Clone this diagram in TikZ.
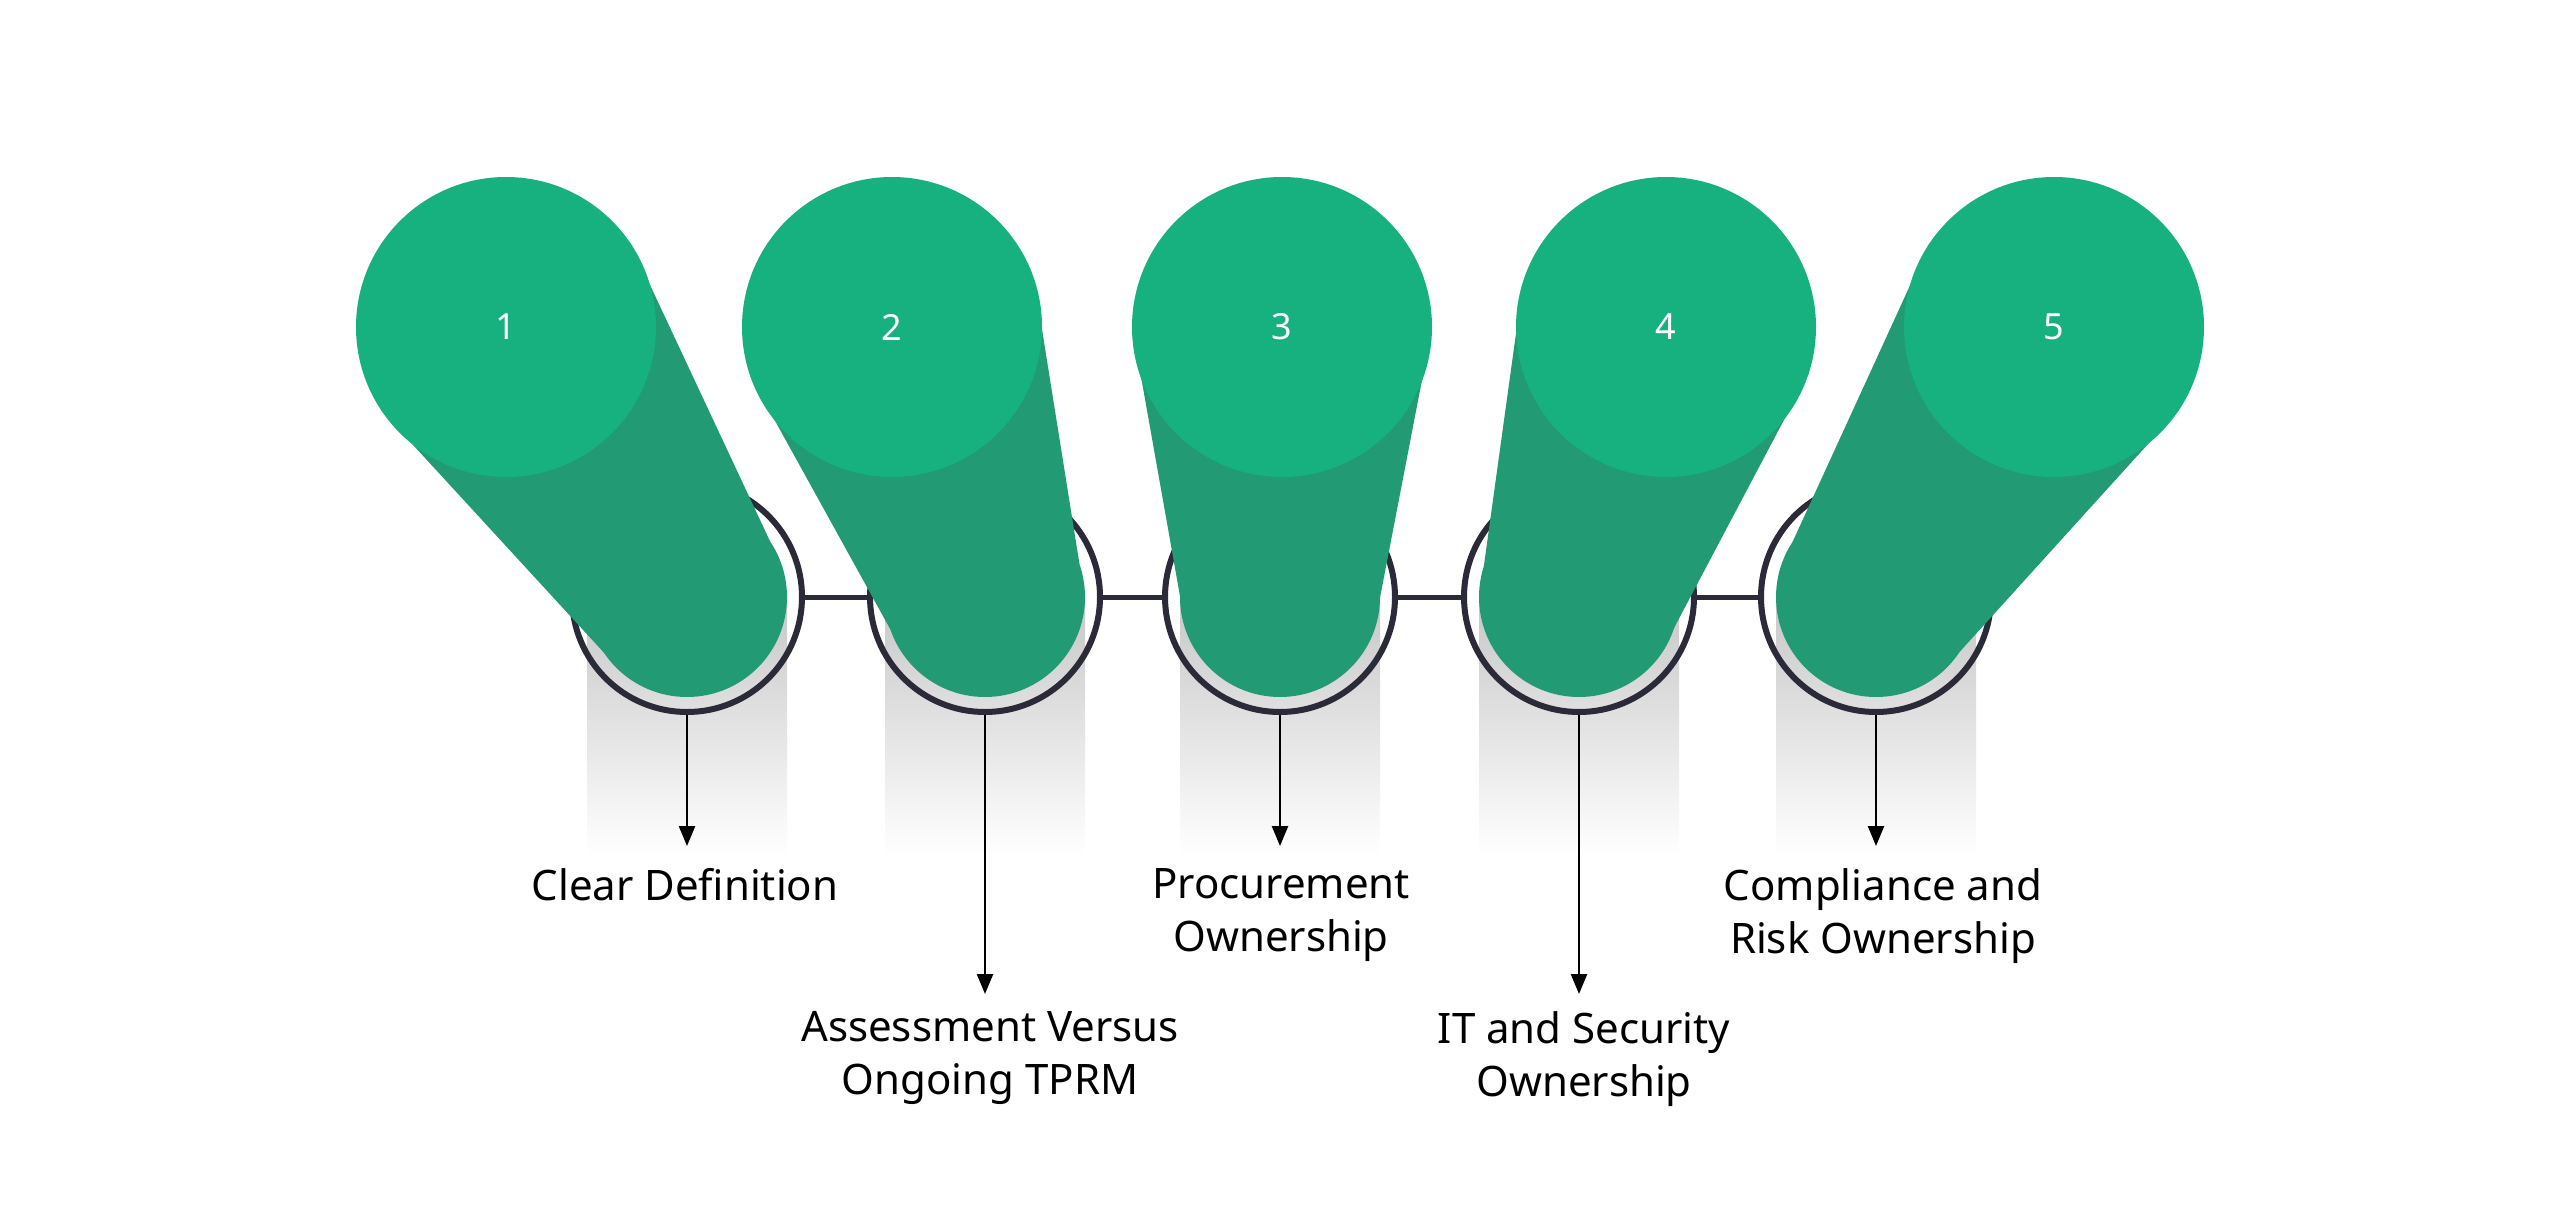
\documentclass[tikz,border=0pt]{standalone}
\usepackage{fontspec}
\setmainfont{Noto Sans}
\usetikzlibrary{calc,arrows.meta}
\definecolor{topg}{HTML}{17B07F}
\definecolor{tubeg}{HTML}{229A74}
\definecolor{ringc}{HTML}{2A2A38}
\tikzset{
  ring/.style={draw=ringc,line width=6pt,circle,minimum size=230pt,inner sep=0pt},
  num/.style={text=white,font=\fontsize{36}{42}\selectfont},
  lab/.style={align=center,anchor=north,inner sep=0pt,font=\fontsize{42}{53}\selectfont,text=black},
  arr/.style={-{Triangle[length=20pt,width=16pt]},line width=2.5pt,black},
  link/.style={line width=5pt,draw=ringc}
}
\begin{document}
\begin{tikzpicture}[x=1pt,y=-1pt]
\useasboundingbox (0,0) rectangle (2560,1229);
\foreach \i/\tx/\bx in {1/506/687,2/892/985,3/1282/1280,4/1666/1579,5/2054/1876}{
  \coordinate (t\i) at (\tx,327);
  \coordinate (b\i) at (\bx,597);
  \shade[top color=black!22,bottom color=white] (\bx-100,597) rectangle (\bx+100,855);
  \node[ring] (r\i) at (b\i) {};
}
\draw[link] (r1.east) -- (r2.west);
\draw[link] (r2.east) -- (r3.west);
\draw[link] (r3.east) -- (r4.west);
\draw[link] (r4.east) -- (r5.west);
\foreach \i/\n in {1/1,2/2,3/3,4/4,5/5}{
  \fill[tubeg] ($(t\i)!150pt!90:(b\i)$) -- ($(b\i)!100pt!-90:(t\i)$) -- ($(b\i)!100pt!90:(t\i)$) -- ($(t\i)!150pt!-90:(b\i)$) -- cycle;
  \fill[tubeg] (b\i) circle[radius=100];
  \fill[topg] (t\i) circle[radius=150];
  \node[num] (n\i) at (t\i) {\n};
}
\node[lab] (l1) at (685,868) {Clear Definition};
\node[lab] (l2) at (990,1011) {Assessment Versus\\Ongoing TPRM};
\node[lab] (l3) at (1281,868) {Procurement\\Ownership};
\node[lab] (l4) at (1584,1011) {IT and Security\\Ownership};
\node[lab] (l5) at (1883,868) {Compliance and\\Risk Ownership};
\draw[arr] (r1.south) -- (687,846);
\draw[arr] (r2.south) -- (985,994);
\draw[arr] (r3.south) -- (1280,846);
\draw[arr] (r4.south) -- (1579,994);
\draw[arr] (r5.south) -- (1876,846);
\end{tikzpicture}
\end{document}
